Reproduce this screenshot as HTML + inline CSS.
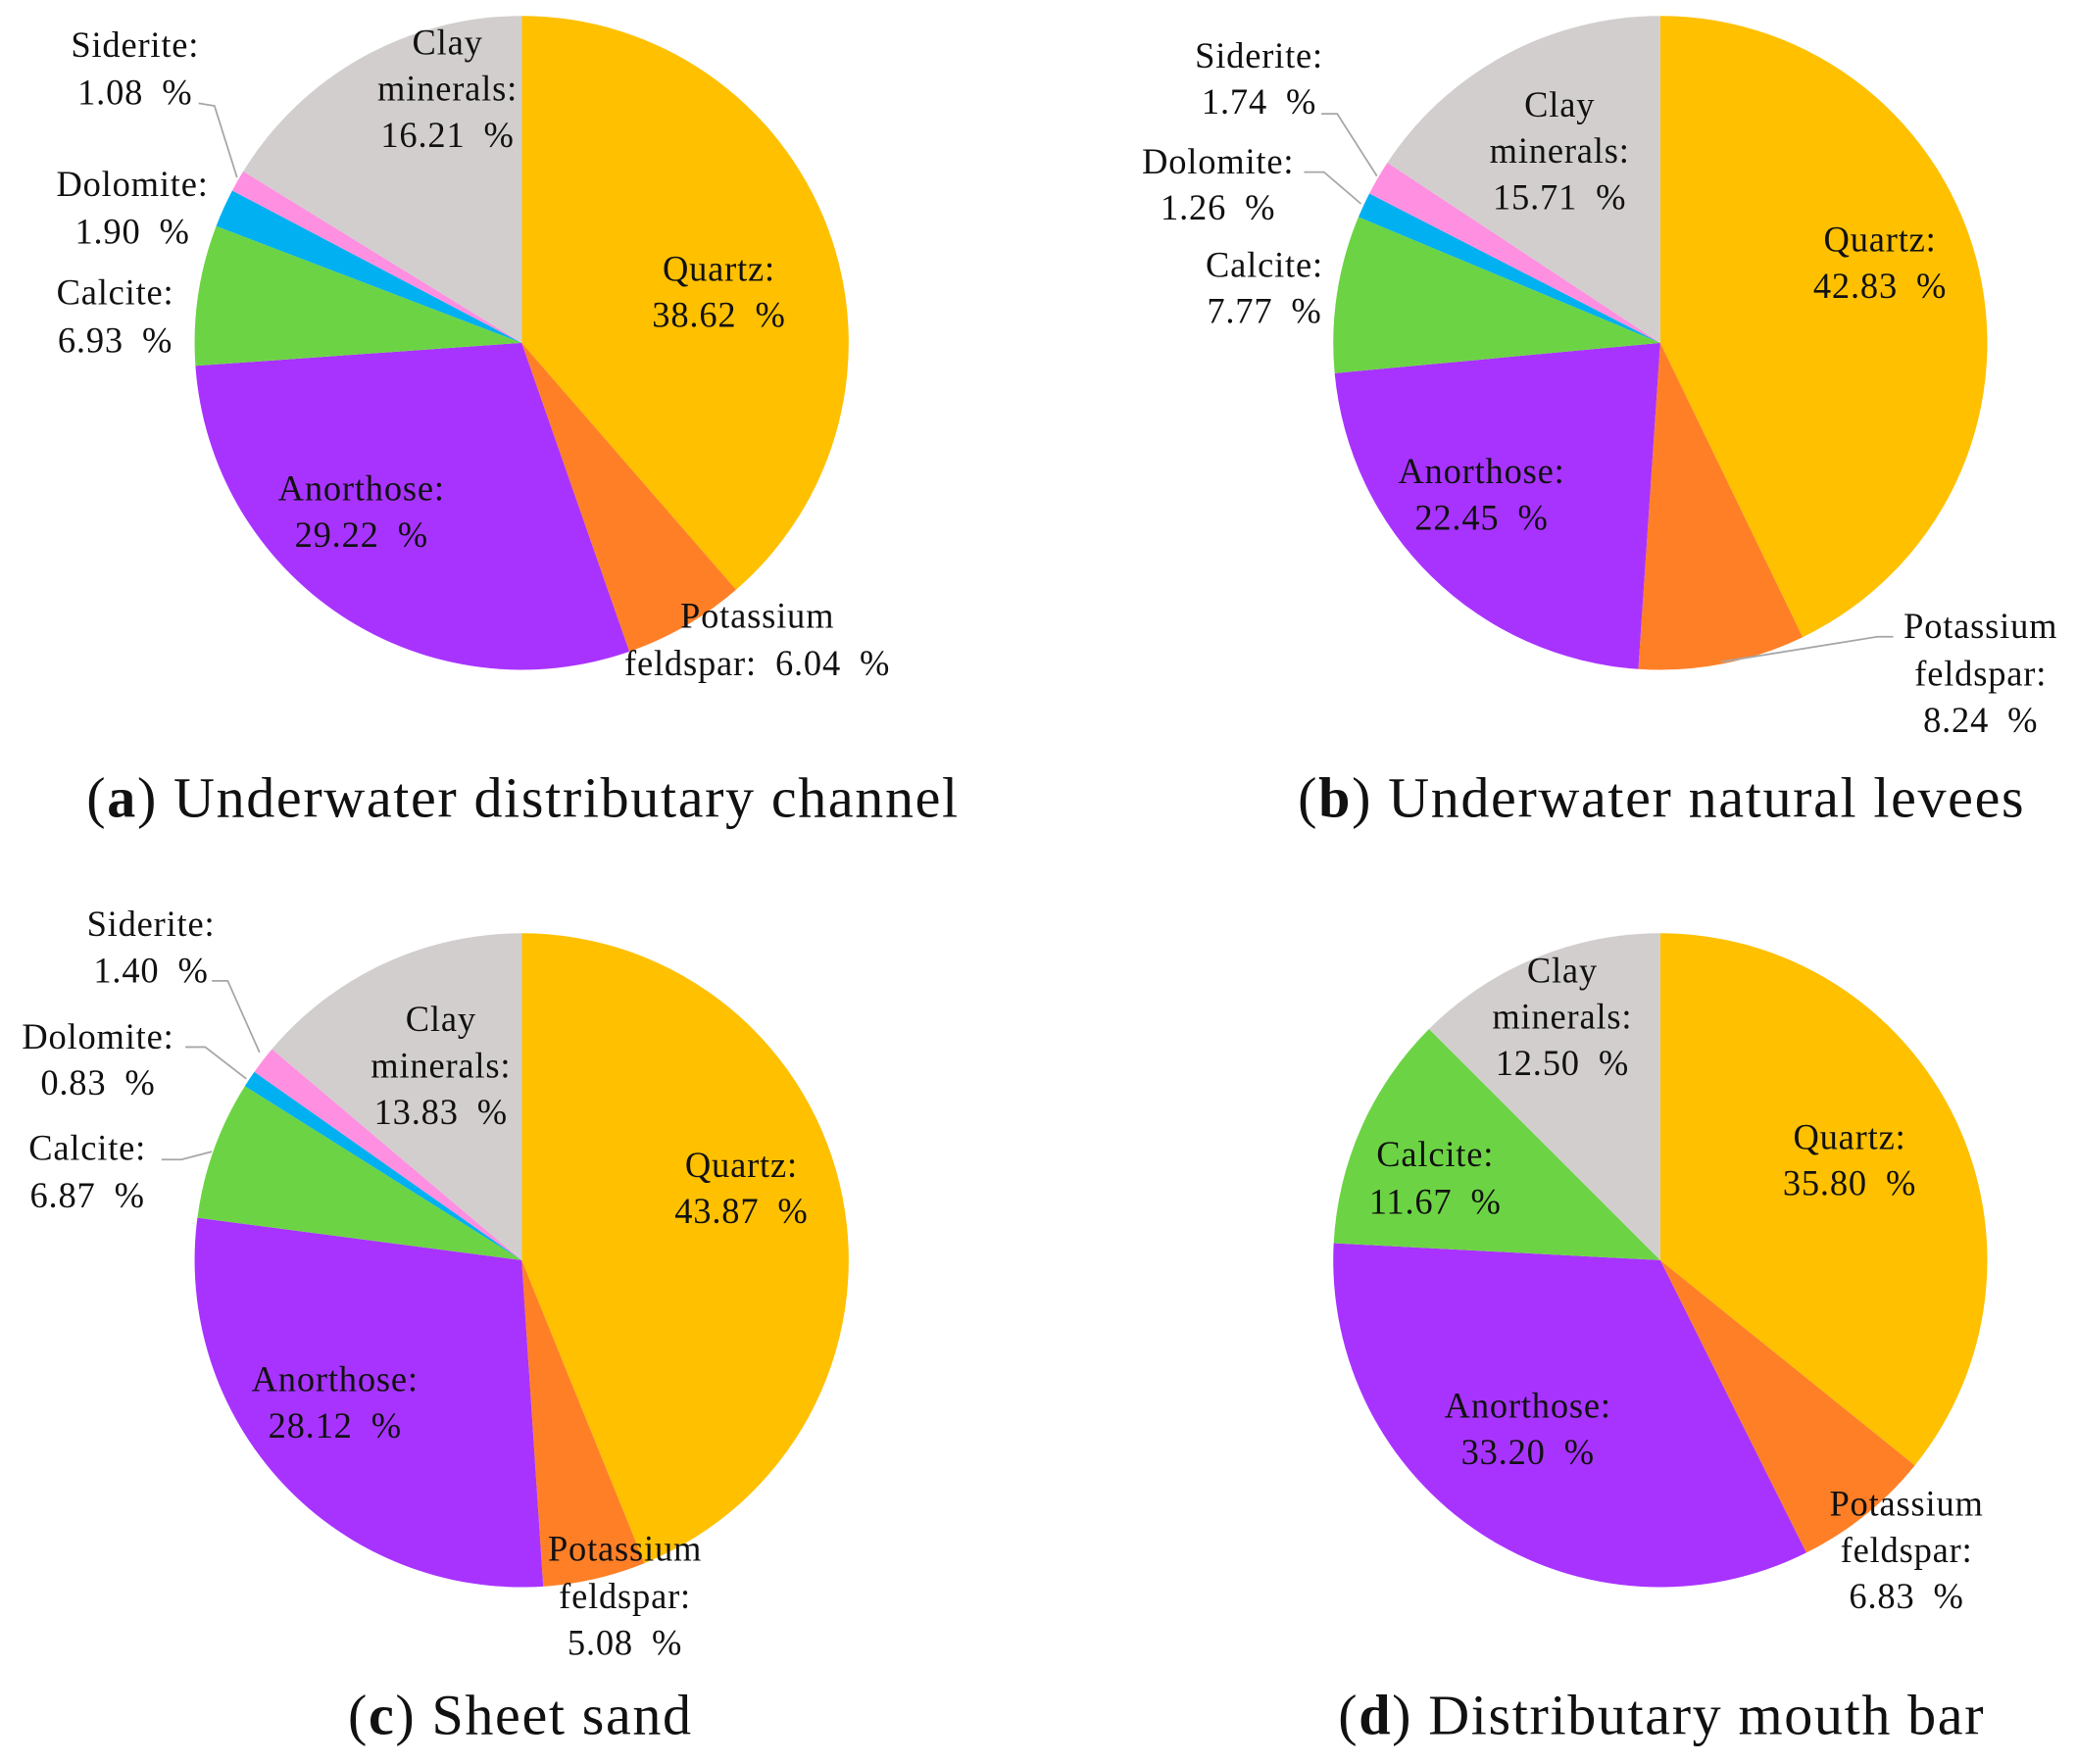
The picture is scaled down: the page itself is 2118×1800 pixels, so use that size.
<!DOCTYPE html>
<html><head><meta charset="utf-8">
<style>
html,body{margin:0;padding:0;background:#fff;}
svg{display:block;}
text{font-family:"Liberation Serif",serif;fill:#111;}
</style></head>
<body>
<svg id="fig" width="2118" height="1800" viewBox="0 0 1568 1332.6" xmlns="http://www.w3.org/2000/svg"></svg>
<script>
const categories = ["Quartz","Potassium feldspar","Anorthose","Calcite","Dolomite","Siderite","Clay minerals"];
const colors = ["#FFC000","#FF7F27","#A833FF","#6CD444","#00B0F0","#FF8FE0","#D2CECE"];
const valuesA = [38.62, 6.04, 29.22, 6.93, 1.90, 1.08, 16.21];
const valuesB = [42.83, 8.24, 22.45, 7.77, 1.26, 1.74, 15.71];
const valuesC = [43.87, 5.08, 28.12, 6.87, 0.83, 1.40, 13.83];
const valuesD = [35.80, 6.83, 33.20, 11.67, 0, 0, 12.50];
const captionsLetter = ["a","b","c","d"];
const captionsText = [" Underwater distributary channel"," Underwater natural levees"," Sheet sand"," Distributary mouth bar"];

const NS = "http://www.w3.org/2000/svg";
const svg = document.getElementById("fig");
const R = 247;
function mk(tag, attrs, parent){
  const e = document.createElementNS(NS, tag);
  for (const k in attrs) e.setAttribute(k, attrs[k]);
  (parent||svg).appendChild(e);
  return e;
}
function fmt(v){ return v.toFixed(2) + "\u2002%"; }

const charts = [
  {id:"a", cx:394, cy:259, values:valuesA, capX:395, capY:603,
   labels:[
     [0,543,[203,238],["Quartz:","{v}"]],
     [1,572,[465,501],["Potassium","feldspar:\u2002{v}"]],
     [2,273,[369,404],["Anorthose:","{v}"]],
     [3,87,[221,257],["Calcite:","{v}"]],
     [4,100,[139,175],["Dolomite:","{v}"]],
     [5,102,[34,70],["Siderite:","{v}"]],
     [6,338,[32,67,102],["Clay","minerals:","{v}"]]],
   leaders:[[[150,78],[162,80],[179,134]]]},
  {id:"b", cx:1254, cy:259, values:valuesB, capX:1255, capY:603,
   labels:[
     [0,1420,[181,216],["Quartz:","{v}"]],
     [1,1496,[473,509,544],["Potassium","feldspar:","{v}"]],
     [2,1119,[356,391],["Anorthose:","{v}"]],
     [3,955,[200,235],["Calcite:","{v}"]],
     [4,920,[122,157],["Dolomite:","{v}"]],
     [5,951,[42,77],["Siderite:","{v}"]],
     [6,1178,[79,114,149],["Clay","minerals:","{v}"]]],
   leaders:[[[998,86],[1010,86],[1040,133]],[[985,130],[1000,130],[1028,154]],[[1430,481],[1418,481],[1300,500]]]},
  {id:"c", cx:394, cy:952, values:valuesC, capX:393, capY:1296,
   labels:[
     [0,560,[880,915],["Quartz:","{v}"]],
     [1,472,[1170,1206,1241],["Potassium","feldspar:","{v}"]],
     [2,253,[1042,1077],["Anorthose:","{v}"]],
     [3,66,[867,903],["Calcite:","{v}"]],
     [4,74,[783,818],["Dolomite:","{v}"]],
     [5,114,[698,733],["Siderite:","{v}"]],
     [6,333,[770,805,840],["Clay","minerals:","{v}"]]],
   leaders:[[[160,741],[172,741],[196,795]],[[140,791],[155,791],[186,815]],[[122,876],[137,876],[160,870]]]},
  {id:"d", cx:1254, cy:952, values:valuesD, capX:1255, capY:1296,
   labels:[
     [0,1397,[859,894],["Quartz:","{v}"]],
     [1,1440,[1136,1171,1206],["Potassium","feldspar:","{v}"]],
     [2,1154,[1062,1097],["Anorthose:","{v}"]],
     [3,1084,[872,908],["Calcite:","{v}"]],
     [6,1180,[733,768,803],["Clay","minerals:","{v}"]]],
   leaders:[]}
];

charts.forEach((c, ci) => {
  const g = mk("g", {});
  
  
  const total = c.values.reduce((a,b)=>a+b,0);
  let ang = -Math.PI/2;
  c.values.forEach((v, i) => {
    if (v <= 0) return;
    const a2 = ang + v/total*2*Math.PI;
    const x1 = c.cx + R*Math.cos(ang), y1 = c.cy + R*Math.sin(ang);
    const x2 = c.cx + R*Math.cos(a2), y2 = c.cy + R*Math.sin(a2);
    const large = (a2-ang) > Math.PI ? 1 : 0;
    const p = mk("path", {d:`M${c.cx},${c.cy} L${x1},${y1} A${R},${R} 0 ${large} 1 ${x2},${y2} Z`, fill:colors[i]}, g);
    
    
    ang = a2;
  });
  c.leaders.forEach(pts => {
    const l = mk("polyline", {points:pts.map(p=>p.join(",")).join(" "), fill:"none", stroke:"#a6a6a6", "stroke-width":1.3}, g);
    
    
  });
  c.labels.forEach(L => {
    const [idx, x, ys, lines] = L;
    const t = mk("text", {"font-size":27, "letter-spacing":0.6, "text-anchor":"middle"}, g);
    
    
    lines.forEach((ln, k) => {
      const ts = mk("tspan", {x:x, y:ys[k]+9}, t);
      ts.textContent = ln.replace("{v}", fmt(c.values[idx]));
    });
  });
  const cap = mk("text", {x:c.capX, y:c.capY+14, "font-size":43, "letter-spacing":1.2, "text-anchor":"middle"}, g);
  
  
  const t1 = mk("tspan", {}, cap); t1.textContent = "(";
  const t2 = mk("tspan", {"font-weight":"bold"}, cap); t2.textContent = captionsLetter[ci];
  const t3 = mk("tspan", {}, cap); t3.textContent = ")" + captionsText[ci];
});
</script>
</body></html>
